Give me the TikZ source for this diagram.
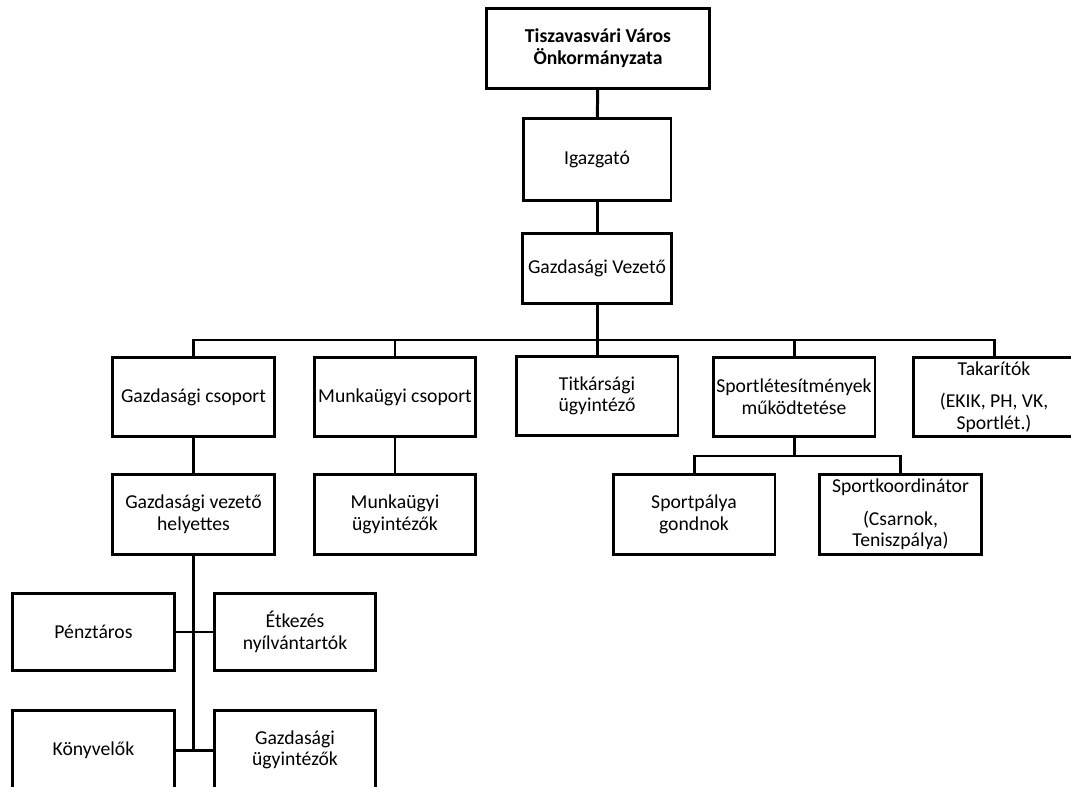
\documentclass[tikz,border=0pt]{standalone}
\usepackage{fontspec}
\setmainfont{Carlito}
\usetikzlibrary{positioning}
\tikzstyle{orgbox}=[draw=black,line width=1.7pt,inner sep=1pt,align=center,minimum width=3.24cm,minimum height=1.58cm,font=\fontsize{11.2}{12.3}\selectfont]
\tikzstyle{orgline}=[line width=1.7pt]

\begin{document}
\begin{tikzpicture}[x=0.02cm,y=-0.02cm]
\useasboundingbox (0,0) rectangle (1071,787);
% top column
\node[orgbox,minimum width=4.46cm,minimum height=1.6cm,font=\bfseries\fontsize{11.2}{12.5}\selectfont] (top) at (598,48.5) {Tiszavasvári Város\\Önkormányzata};
\node[orgbox,minimum width=2.96cm,minimum height=1.64cm] (igaz) at (597,159.5) {Igazgató} edge[orgline] (top);
\node[orgbox,minimum width=2.98cm,minimum height=1.4cm] (gvez) at (597,268.5) {Gazdasági Vezető} edge[orgline] (igaz);
\coordinate (mainbus) at (597,340);
% 2nd row
\node[orgbox] (gcs)   at (193.5,397) {Gazdasági csoport};
\node[orgbox] (mcs)   at (395,397)   {Munkaügyi csoport};
\node[orgbox] (titk)  at (597,396)   {Titkársági\\ügyintéző};
\node[orgbox] (sport) at (794,397)   {Sportlétesítmények\\működtetése};
\node[orgbox] (tak)   at (994,397)   {Takarítók\\[6pt](EKIK, PH, VK,\\Sportlét.)};
% 3rd row
\node[orgbox,minimum height=1.6cm] (hely)  at (193.5,514.5) {Gazdasági vezető\\helyettes} edge[orgline] (gcs);
\node[orgbox,minimum height=1.6cm] (munk)  at (395,514.5)   {Munkaügyi\\ügyintézők} edge[orgline] (mcs);
\node[orgbox,minimum height=1.6cm] (palya) at (694,514.5)   {Sportpálya\\gondnok};
\node[orgbox,minimum height=1.6cm] (koord) at (900.5,514.5) {Sportkoordinátor\\[6pt](Csarnok,\\Teniszpálya)};
\coordinate (subbus) at (794,456);
% 4th and 5th row
\node[orgbox,minimum height=1.54cm] (penz)  at (93.5,632) {Pénztáros};
\node[orgbox,minimum height=1.54cm] (etk)   at (295,632)  {Étkezés\\nyílvántartók};
\node[orgbox] (konyv) at (93.5,750) {Könyvelők};
\node[orgbox] (gugy)  at (295,750)  {Gazdasági\\ügyintézők};
\coordinate (tail) at (hely.south |- konyv.east);
% connectors
\draw[orgline] (gvez.south) -- (mainbus);
\foreach \n in {gcs,mcs,titk,sport,tak}
  \draw[orgline] (mainbus) -| (\n.north);
\draw[orgline] (sport.south) -- (subbus) -| (palya.north);
\draw[orgline] (subbus) -| (koord.north);
\draw[orgline] (hely.south) -- (tail);
\draw[orgline] (penz.east) -- (etk.west);
\draw[orgline] (konyv.east) -- (gugy.west);
\end{tikzpicture}
\end{document}
